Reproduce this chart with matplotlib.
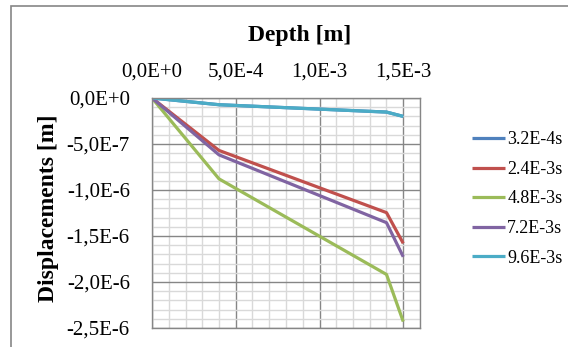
import matplotlib
matplotlib.use("Agg")
import matplotlib.pyplot as plt
from matplotlib.ticker import FuncFormatter, MultipleLocator
from matplotlib.patches import Rectangle
import math

depth = [0.0, 4e-4, 1.4e-3, 1.5e-3]
series_names = ["3.2E-4s", "2.4E-3s", "4.8E-3s", "7.2E-3s", "9.6E-3s"]
disp_32e4 = [0.0, -7.3e-8, -1.53e-7, -2.0e-7]
disp_24e3 = [0.0, -5.7e-7, -1.246e-6, -1.58e-6]
disp_48e3 = [0.0, -8.79e-7, -1.918e-6, -2.43e-6]
disp_72e3 = [0.0, -6.18e-7, -1.355e-6, -1.726e-6]
disp_96e3 = [0.0, -7.3e-8, -1.53e-7, -2.0e-7]
colors = ["#4F81BD", "#C0504D", "#9BBB59", "#8064A2", "#4BACC6"]

plt.rcParams['font.family'] = ['Liberation Serif', 'DejaVu Serif']

W, H = 568, 347
fig = plt.figure(figsize=(W / 100, H / 100), dpi=100)

# outer chart frame
fig.patches.append(Rectangle((11 / W, -0.05), (W - 11 + 20) / W, 1 - 6 / H + 0.05,
                             transform=fig.transFigure, fill=False,
                             edgecolor="#868686", linewidth=1.2))

left, right, top, bottom = 152, 420, 98, 328
ax = fig.add_axes([left / W, 1 - bottom / H, (right - left) / W, (bottom - top) / H])

for name, vals, c in zip(series_names, [disp_32e4, disp_24e3, disp_48e3, disp_72e3, disp_96e3], colors):
    ax.plot(depth, vals, color=c, linewidth=2.3, label=name, solid_capstyle='butt')

ax.set_xlim(0, 1.6e-3)
ax.set_ylim(-2.5e-6, 0)

ax.xaxis.set_major_locator(MultipleLocator(5e-4))
ax.xaxis.set_minor_locator(MultipleLocator(1e-4))
ax.yaxis.set_major_locator(MultipleLocator(5e-7))
ax.yaxis.set_minor_locator(MultipleLocator(1e-7))

def fmt(v, pos):
    if abs(v) < 1e-15:
        return "0,0E+0"
    e = int(math.floor(math.log10(abs(v))))
    m = v / 10 ** e
    if round(abs(m), 1) >= 10:
        e += 1
        m = v / 10 ** e
    s = f"{m:.1f}".replace(".", ",")
    es = f"+{e}" if e >= 0 else f"{e}"
    return f"{s}E{es}"

ax.xaxis.set_major_formatter(FuncFormatter(fmt))
ax.yaxis.set_major_formatter(FuncFormatter(fmt))

ax.xaxis.tick_top()
ax.xaxis.set_label_position('top')
ax.tick_params(which='both', length=0)
ax.tick_params(axis='x', labelsize=15, pad=12)
ax.tick_params(axis='y', labelsize=15, pad=16)

ax.grid(which='minor', color='#D9D9D9', linewidth=1.0)
ax.grid(which='major', color='#868686', linewidth=1.0)
ax.set_axisbelow(True)
for s in ax.spines.values():
    s.set_color('#868686')
    s.set_linewidth(1.0)

fig.text(300 / W, 1 - 36 / H, "Depth [m]", ha='center', va='center',
         fontsize=17, fontweight='bold')
fig.text(49 / W, 1 - 208 / H, "Displacements [m]", ha='center', va='center',
         rotation=90, fontsize=17, fontweight='bold')

handles, labels = ax.get_legend_handles_labels()
fig.legend(handles, labels, loc='center left', bbox_to_anchor=(472 / W, 1 - 199 / H),
           frameon=False, fontsize=13, handlelength=1.8, handletextpad=0.15,
           labelspacing=0.7, borderaxespad=0, borderpad=0)

fig.savefig("out.png", dpi=100)
